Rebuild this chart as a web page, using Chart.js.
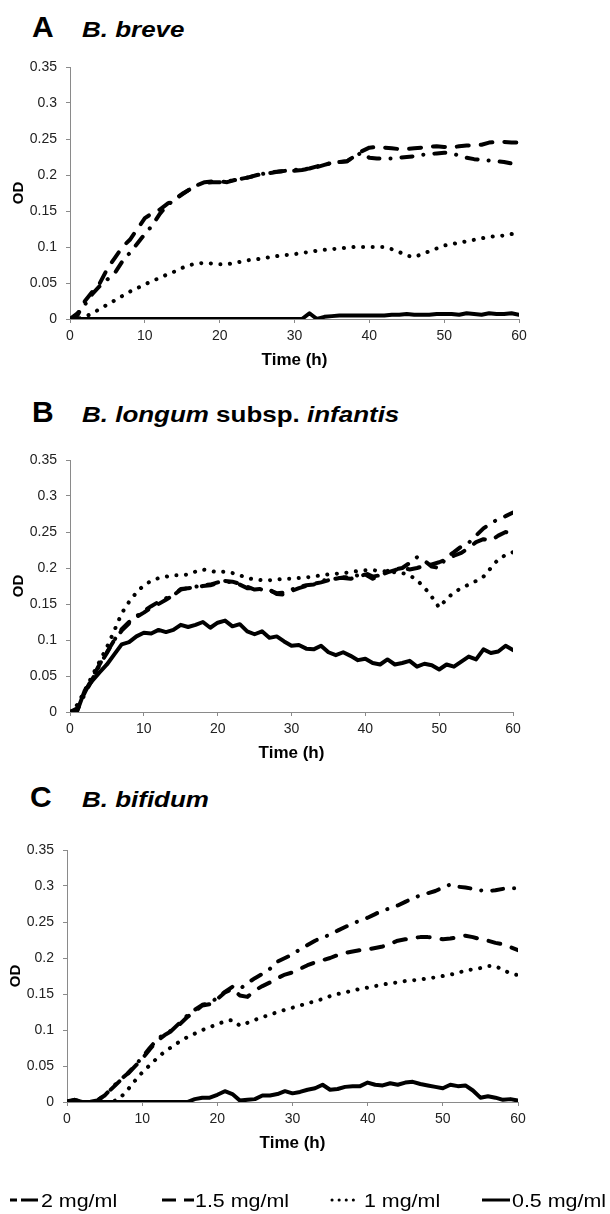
<!DOCTYPE html>
<html>
<head>
<meta charset="utf-8">
<script src="https://cdn.jsdelivr.net/npm/chart.js@4.4.1/dist/chart.umd.min.js"></script>
<style>
  body { margin: 0; background: #fff; width: 610px; height: 1214px; position: relative; overflow: hidden;
         font-family: "Liberation Sans", Arial, sans-serif; color: #000; }
  .panel { position: absolute; left: 0; width: 610px; height: 330px; }
  .letter { position: absolute; font-size: 30px; line-height: 30px; font-weight: bold; }
  .species { position: absolute; font-size: 22px; line-height: 22px; font-weight: bold; white-space: nowrap;
             transform: scaleX(1.18); transform-origin: left center; }
  .species i { font-style: italic; }
  .legtext { position: absolute; top: 1192px; font-size: 18px; line-height: 18px; white-space: nowrap;
             transform: scaleX(1.19); transform-origin: left center; }
  #legendSwatches { position: absolute; left: 0; top: 1190px; }
</style>
</head>
<body>

<div class="letter" style="left:32px;top:12px">A</div>
<div class="species" style="left:82px;top:19px"><i>B. breve</i></div>
<div class="panel" style="top:49px"><canvas id="chartA" width="610" height="330"></canvas></div>

<div class="letter" style="left:32px;top:397px">B</div>
<div class="species" style="left:82px;top:404px"><i>B. longum</i> subsp. <i>infantis</i></div>
<div class="panel" style="top:442px"><canvas id="chartB" width="610" height="330"></canvas></div>

<div class="letter" style="left:30px;top:782px">C</div>
<div class="species" style="left:82px;top:789px"><i>B. bifidum</i></div>
<div class="panel" style="top:832px"><canvas id="chartC" width="610" height="330"></canvas></div>

<canvas id="legendSwatches" width="610" height="20"></canvas>
<div class="legtext" style="left:41px">2 mg/ml</div>
<div class="legtext" style="left:195px">1.5 mg/ml</div>
<div class="legtext" style="left:364px">1 mg/ml</div>
<div class="legtext" style="left:512px">0.5 mg/ml</div>

<script>
// time points (h), shared by every series
const hours = Array.from({ length: 61 }, (_, i) => i);

const seriesLabels = ["2 mg/ml", "1.5 mg/ml", "1 mg/ml", "0.5 mg/ml"];

// A  B. breve
const breve2 = [0, 0.008, 0.02, 0.035, 0.046, 0.055, 0.064, 0.08, 0.092, 0.105, 0.118, 0.13, 0.146, 0.158, 0.166, 0.173, 0.18, 0.186, 0.189, 0.19,
  0.19, 0.191, 0.193, 0.195, 0.197, 0.2, 0.202, 0.204, 0.205, 0.206, 0.207, 0.208, 0.209, 0.212, 0.215, 0.216, 0.218, 0.219, 0.226, 0.231,
  0.224, 0.223, 0.223, 0.223, 0.224, 0.225, 0.226, 0.228, 0.229, 0.23, 0.231, 0.23, 0.227, 0.224, 0.222, 0.221, 0.22, 0.219, 0.218, 0.216, 0.216];
const breve15 = [0, 0.005, 0.025, 0.038, 0.05, 0.07, 0.085, 0.1, 0.11, 0.125, 0.14, 0.147, 0.152, 0.16, 0.166, 0.174, 0.18, 0.186, 0.19, 0.191,
  0.191, 0.19, 0.193, 0.195, 0.197, 0.2, 0.202, 0.203, 0.205, 0.206, 0.206, 0.207, 0.209, 0.211, 0.214, 0.217, 0.218, 0.219, 0.226, 0.233,
  0.238, 0.239, 0.238, 0.237, 0.236, 0.236, 0.237, 0.238, 0.239, 0.24, 0.239, 0.238, 0.24, 0.241, 0.241, 0.242, 0.245, 0.246, 0.246, 0.245, 0.245];
const breve1 = [0, 0, 0.003, 0.008, 0.014, 0.02, 0.026, 0.032, 0.038, 0.043, 0.048, 0.053, 0.057, 0.062, 0.066, 0.071, 0.075, 0.077, 0.078, 0.077,
  0.076, 0.076, 0.078, 0.08, 0.082, 0.083, 0.085, 0.086, 0.088, 0.089, 0.09, 0.092, 0.093, 0.095, 0.096, 0.097, 0.098, 0.099, 0.1, 0.1,
  0.1, 0.1, 0.1, 0.097, 0.093, 0.088, 0.086, 0.09, 0.094, 0.098, 0.102, 0.104, 0.106, 0.108, 0.11, 0.112, 0.114, 0.115, 0.116, 0.118, 0.12];
const breve05 = [0, 0, 0, 0, 0, 0, 0, 0, 0, 0, 0, 0, 0, 0, 0, 0, 0, 0, 0, 0,
  0, 0, 0, 0, 0, 0, 0, 0, 0, 0, 0, 0, 0.008, 0, 0.003, 0.004, 0.005, 0.005, 0.005, 0.005,
  0.005, 0.005, 0.005, 0.006, 0.006, 0.007, 0.006, 0.006, 0.006, 0.007, 0.007, 0.007, 0.006, 0.008, 0.007, 0.006, 0.008, 0.007, 0.007, 0.008, 0.006];

// B  B. longum subsp. infantis
const infantis2 = [0, 0.003, 0.025, 0.045, 0.065, 0.082, 0.1, 0.115, 0.125, 0.133, 0.14, 0.147, 0.153, 0.158, 0.162, 0.17, 0.172, 0.174, 0.176, 0.177,
  0.18, 0.181, 0.18, 0.177, 0.172, 0.172, 0.17, 0.169, 0.165, 0.166, 0.17, 0.174, 0.176, 0.177, 0.182, 0.184, 0.185, 0.187, 0.187, 0.19,
  0.193, 0.188, 0.19, 0.196, 0.198, 0.2, 0.207, 0.215, 0.21, 0.202, 0.2, 0.215, 0.222, 0.23, 0.235, 0.245, 0.255, 0.262, 0.268, 0.272, 0.277];
const infantis15 = [0, 0.005, 0.027, 0.047, 0.066, 0.083, 0.1, 0.113, 0.123, 0.132, 0.138, 0.145, 0.15, 0.156, 0.162, 0.171, 0.172, 0.173, 0.175, 0.176,
  0.179, 0.182, 0.181, 0.178, 0.174, 0.17, 0.171, 0.17, 0.164, 0.163, 0.168, 0.172, 0.175, 0.178, 0.18, 0.183, 0.186, 0.186, 0.185, 0.188,
  0.191, 0.185, 0.19, 0.194, 0.197, 0.2, 0.198, 0.2, 0.203, 0.205, 0.208, 0.212, 0.217, 0.221, 0.228, 0.236, 0.24, 0.238, 0.245, 0.25, 0.248];
const infantis1 = [0, 0.01, 0.03, 0.05, 0.07, 0.09, 0.113, 0.137, 0.153, 0.166, 0.176, 0.182, 0.186, 0.188, 0.19, 0.19, 0.191, 0.195, 0.198, 0.196,
  0.194, 0.195, 0.193, 0.19, 0.186, 0.184, 0.183, 0.183, 0.184, 0.185, 0.185, 0.186, 0.187, 0.188, 0.19, 0.191, 0.192, 0.193, 0.194, 0.196,
  0.197, 0.197, 0.196, 0.195, 0.194, 0.193, 0.19, 0.183, 0.173, 0.16, 0.145, 0.157, 0.166, 0.172, 0.177, 0.182, 0.188, 0.2, 0.212, 0.218, 0.222];
const infantis05 = [0, 0.002, 0.03, 0.043, 0.055, 0.066, 0.08, 0.094, 0.097, 0.105, 0.11, 0.109, 0.114, 0.111, 0.114, 0.121, 0.118, 0.121, 0.125, 0.117,
  0.124, 0.127, 0.119, 0.122, 0.112, 0.108, 0.112, 0.103, 0.105, 0.098, 0.092, 0.093, 0.088, 0.087, 0.092, 0.083, 0.079, 0.083, 0.078, 0.072,
  0.074, 0.068, 0.066, 0.073, 0.066, 0.068, 0.071, 0.063, 0.067, 0.065, 0.059, 0.066, 0.063, 0.07, 0.077, 0.073, 0.087, 0.082, 0.084, 0.092, 0.086];

// C  B. bifidum
const bifidum2 = [0.001, 0.003, 0, 0, 0.002, 0.009, 0.02, 0.03, 0.039, 0.05, 0.062, 0.075, 0.087, 0.095, 0.1, 0.11, 0.12, 0.128, 0.135, 0.137,
  0.145, 0.153, 0.16, 0.157, 0.165, 0.172, 0.178, 0.185, 0.195, 0.2, 0.205, 0.212, 0.218, 0.224, 0.229, 0.232, 0.238, 0.243, 0.248, 0.252,
  0.256, 0.261, 0.266, 0.269, 0.273, 0.278, 0.283, 0.287, 0.29, 0.293, 0.298, 0.302, 0.299, 0.298, 0.296, 0.294, 0.293, 0.294, 0.296, 0.297, 0.297];
const bifidum15 = [0, 0.002, 0, 0, 0.002, 0.009, 0.019, 0.029, 0.038, 0.049, 0.06, 0.073, 0.085, 0.093, 0.099, 0.108, 0.118, 0.126, 0.134, 0.136,
  0.143, 0.152, 0.157, 0.148, 0.146, 0.155, 0.161, 0.166, 0.172, 0.177, 0.18, 0.185, 0.19, 0.194, 0.197, 0.2, 0.204, 0.207, 0.209, 0.211,
  0.212, 0.214, 0.216, 0.22, 0.224, 0.226, 0.228, 0.229, 0.229, 0.228, 0.226, 0.227, 0.229, 0.231, 0.229, 0.226, 0.224, 0.221, 0.219, 0.215, 0.211];
const bifidum1 = [0, 0, 0, 0, 0, 0, 0, 0.005, 0.016, 0.029, 0.041, 0.051, 0.061, 0.07, 0.077, 0.084, 0.09, 0.095, 0.1, 0.104,
  0.108, 0.112, 0.114, 0.106, 0.11, 0.114, 0.118, 0.121, 0.125, 0.128, 0.131, 0.134, 0.137, 0.14, 0.143, 0.147, 0.15, 0.152, 0.155, 0.157,
  0.159, 0.161, 0.163, 0.165, 0.166, 0.168, 0.169, 0.17, 0.172, 0.173, 0.175, 0.177, 0.179, 0.183, 0.184, 0.186, 0.189, 0.189, 0.183, 0.179, 0.176];
const bifidum05 = [0, 0.003, 0, 0, 0, 0, 0, 0, 0, 0, 0, 0, 0, 0, 0, 0, 0, 0.004, 0.006, 0.006,
  0.01, 0.015, 0.011, 0.002, 0.003, 0.004, 0.009, 0.009, 0.011, 0.015, 0.012, 0.014, 0.017, 0.019, 0.024, 0.017, 0.018, 0.021, 0.022, 0.022,
  0.027, 0.024, 0.023, 0.026, 0.024, 0.027, 0.028, 0.025, 0.023, 0.021, 0.019, 0.024, 0.022, 0.023, 0.016, 0.006, 0.008, 0.006, 0.003, 0.004, 0.002];

// line styles in legend order: 2, 1.5, 1, 0.5 mg/ml
const dashes = [[11, 11, 0.1, 11], [12, 12], [0.1, 9.5], []];

const axisGrey = "#8a8a8a";

function makeChart(id, values, padLeft, padRight) {
  const datasets = values.map((v, i) => ({
    label: seriesLabels[i],
    data: hours.map((h, k) => ({ x: h, y: v[k] })),
    borderColor: "#000",
    borderWidth: 4,
    borderDash: dashes[i],
    borderCapStyle: "round",
    borderJoinStyle: "round",
    pointRadius: 0,
    tension: 0,
    fill: false,
  }));

  return new Chart(document.getElementById(id), {
    type: "line",
    data: { datasets },
    options: {
      responsive: false,
      animation: false,
      layout: { padding: { left: padLeft, right: padRight, top: 18, bottom: 0 } },
      plugins: { legend: { display: false }, tooltip: { enabled: false } },
      scales: {
        x: {
          type: "linear",
          min: 0,
          max: 60,
          ticks: { stepSize: 10, color: "#222", font: { size: 14 }, padding: 5, maxRotation: 0 },
          grid: { drawOnChartArea: false, drawTicks: true, tickLength: 4, color: axisGrey },
          border: { color: axisGrey },
          title: { display: true, text: "Time (h)", color: "#000", font: { size: 17, weight: "bold" }, padding: { top: 0, bottom: 8 } },
          afterFit: (s) => { s.height = 60; },
        },
        y: {
          min: 0,
          max: 0.35,
          ticks: { stepSize: 0.05, color: "#222", font: { size: 14 }, padding: 9, callback: (v) => String(+v.toFixed(2)) },
          grid: { drawOnChartArea: false, drawTicks: true, tickLength: 4, color: axisGrey },
          border: { color: axisGrey },
          title: { display: true, text: "OD", color: "#000", font: { size: 15, weight: "bold" }, padding: { top: 2, bottom: 0 } },
          afterFit: (s) => { s.width = 62; },
        },
      },
    },
  });
}

makeChart("chartA", [breve2, breve15, breve1, breve05], 8, 91);
makeChart("chartB", [infantis2, infantis15, infantis1, infantis05], 8, 97);
makeChart("chartC", [bifidum2, bifidum15, bifidum1, bifidum05], 5, 92);

// legend swatches
const lg = document.getElementById("legendSwatches").getContext("2d");
lg.strokeStyle = "#000";
lg.lineWidth = 3;
function swatch(x1, x2, dash, cap) {
  lg.setLineDash(dash);
  lg.lineCap = cap;
  lg.beginPath();
  lg.moveTo(x1, 10);
  lg.lineTo(x2, 10);
  lg.stroke();
}
swatch(10, 38, [7, 4, 16, 0], "butt");
swatch(162, 194, [14, 8, 10, 0], "butt");
swatch(332, 360, [0.1, 7], "round");
swatch(482, 510, [], "butt");
</script>
</body>
</html>
